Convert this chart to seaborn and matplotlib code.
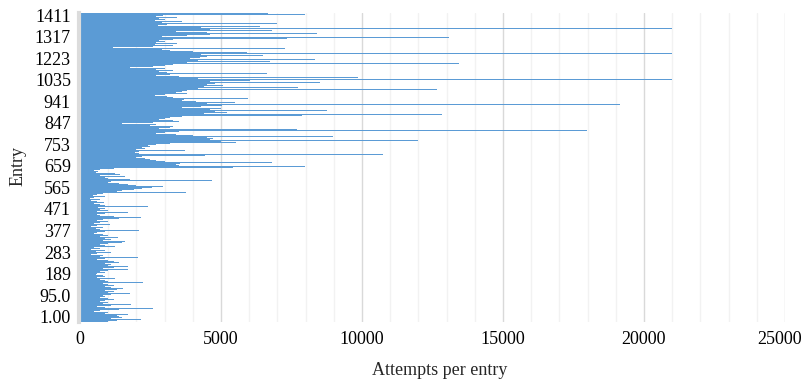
import numpy as np
import pandas as pd
import matplotlib
matplotlib.use("Agg")
import matplotlib.pyplot as plt
import matplotlib.transforms as mtransforms
import seaborn as sns
from matplotlib.ticker import MultipleLocator

# Attempts per entry, read row by row from the top of the chart (highest entries) downwards
attempts_a = [6650, 7980, 2940, 2700, 3440, 2800, 3000, 2650, 3600, 2900,
              6980, 3100, 2750, 6380, 4300, 21000, 4600, 6800, 3400, 4500,
              8400, 4600, 3800, 2900, 13100, 7340, 3300, 2800, 3000, 2700,
              3440, 2650, 3300, 2600, 1180]
attempts_b = [7270, 2900, 3200, 4000, 5920, 21000, 4300, 6500, 4500, 4250,
              3900, 8330, 4200, 6740, 3800, 13440, 3300, 3000, 2600, 1770,
              3000, 2700, 3300, 2800, 3100, 6630, 3200, 2700, 3500, 9860,
              4200, 21000, 6030]
attempts_c = [4600, 8510, 4800, 4500, 5070, 4400, 7730, 4200, 12660, 3800,
              3600, 3400, 3790, 3000, 2660, 3100, 3300, 5960, 3700, 3600,
              4100, 5500, 4500, 19150, 5030, 4300, 3600, 5000, 4600, 8750,
              4800, 5210, 4400, 12830, 7870, 3600, 3200, 3000, 2800, 3300]
attempts_d = [3500, 2600, 1480, 2700, 2500, 3300, 3200, 2800, 7690, 17980,
              3500, 3000, 2700, 3400, 4000, 8970, 4500, 4720, 4600, 11990,
              5000, 5530, 3200, 2700, 2400, 2500, 2200, 2300, 2000, 3720,
              2100, 1950, 2100, 10740, 4430, 2200, 2000, 2300, 2500, 2700,
              3000, 6800, 3550, 3400, 3500, 7980, 5430, 1200, 700, 500]
attempts_e = [640, 550, 1240, 1420, 700, 1600, 900, 1000, 1770, 4680,
              1100, 1000, 1400, 1700, 2000, 2940, 2550, 2200, 1900, 1500,
              1300, 3760, 800, 600, 450, 900, 500, 350, 700, 400,
              600, 850, 500, 700, 900, 2400, 650, 900, 700, 1000,
              600, 1700, 900, 600, 700, 1200, 2160, 1400, 800, 600]
attempts_f = [1000, 700, 500, 1060, 600, 400, 800, 550, 700, 2100,
              900, 600, 500, 800, 1000, 700, 1350, 900, 1100, 800,
              1600, 1500, 1000, 700, 900, 1240, 500, 700, 400, 900,
              550, 1100, 600, 400, 800, 700, 2060, 900, 600, 1000,
              1200, 1380, 900, 1100, 1000, 1700, 1200, 800, 1700, 1000]
attempts_g = [700, 900, 600, 550, 800, 900, 600, 1240, 700, 900,
              1000, 2230, 800, 1000, 1200, 900, 1100, 1520, 1300, 900,
              1200, 1000, 1770, 1100, 800, 900, 700, 1000, 1200, 900,
              700, 1000, 800, 1810, 1100, 600, 900, 2590, 1400, 700,
              500, 1000, 900, 1700, 1300, 1400, 1500, 1100, 2160, 1300,
              1000]

attempts = (attempts_a + attempts_b + attempts_c + attempts_d
            + attempts_e + attempts_f + attempts_g)

# y tick labels, top to bottom, as printed on the chart
entry_labels = ["1411", "1317", "1223", "1035", "941", "847", "753", "659",
                "565", "471", "377", "283", "189", "95.0", "1.00"]
x_ticks = [0, 5000, 10000, 15000, 20000, 25000]

rows = [f"r{i:03d}" for i in range(len(attempts))]
df = pd.DataFrame({"row": rows, "attempts": attempts})

sns.set_style("white")
plt.rcParams["font.family"] = ["Liberation Serif", "DejaVu Serif"]

W, H = 803, 383
fig = plt.figure(figsize=(W / 100, H / 100), dpi=100)
ax = fig.add_axes([80 / W, 61 / H, 705 / W, 309 / H])

sns.barplot(data=df, x="attempts", y="row", orient="h", color="#5B9BD5",
            saturation=1, width=1.0, linewidth=0, errorbar=None, ax=ax,
            zorder=2)
for p in ax.patches:
    p.set_antialiased(False)

n = len(attempts)
ax.set_xlim(0, 25000)
ax.set_ylim(n - 0.5, -0.5)

ax.set_xticks(x_ticks)
ax.set_xticklabels([str(v) for v in x_ticks])
ax.xaxis.set_minor_locator(MultipleLocator(1000))
ax.set_yticks(np.linspace(1.5, 303.2, len(entry_labels)))
ax.set_yticklabels(entry_labels)

ax.set_axisbelow(True)
ax.grid(which="major", axis="x", color="#D9D9D9", lw=1.0, zorder=0)
ax.grid(which="minor", axis="x", color="#F2F2F2", lw=1.0, zorder=0)
ax.grid(which="major", axis="y", visible=False)

FS = 13
ax.tick_params(axis="both", which="both", length=0)
ax.tick_params(axis="x", pad=6.5, labelsize=FS, colors="#000000")
ax.tick_params(axis="y", pad=5.5, labelsize=FS, colors="#000000")

# nudge the last x label slightly left so it stays inside the figure
last = ax.get_xticklabels()[-1]
last.set_transform(last.get_transform()
                   + mtransforms.ScaledTranslation(-5 / 100, 0, fig.dpi_scale_trans))

for s in ["top", "right", "bottom"]:
    ax.spines[s].set_visible(False)
ax.spines["left"].set_color("#DCDCDC")
ax.spines["left"].set_linewidth(3)
ax.spines["left"].set_position(("outward", 1))

ax.set_xlabel("Attempts per entry", fontsize=FS, va="center")
ax.xaxis.set_label_coords((440 - 80) / 705, -(370 - 321.5) / 309)
ax.set_ylabel("Entry", fontsize=FS, va="center")
ax.yaxis.set_label_coords((18 - 80) / 705, (321.5 - 165) / 309)

fig.savefig("out.png", dpi=100)
